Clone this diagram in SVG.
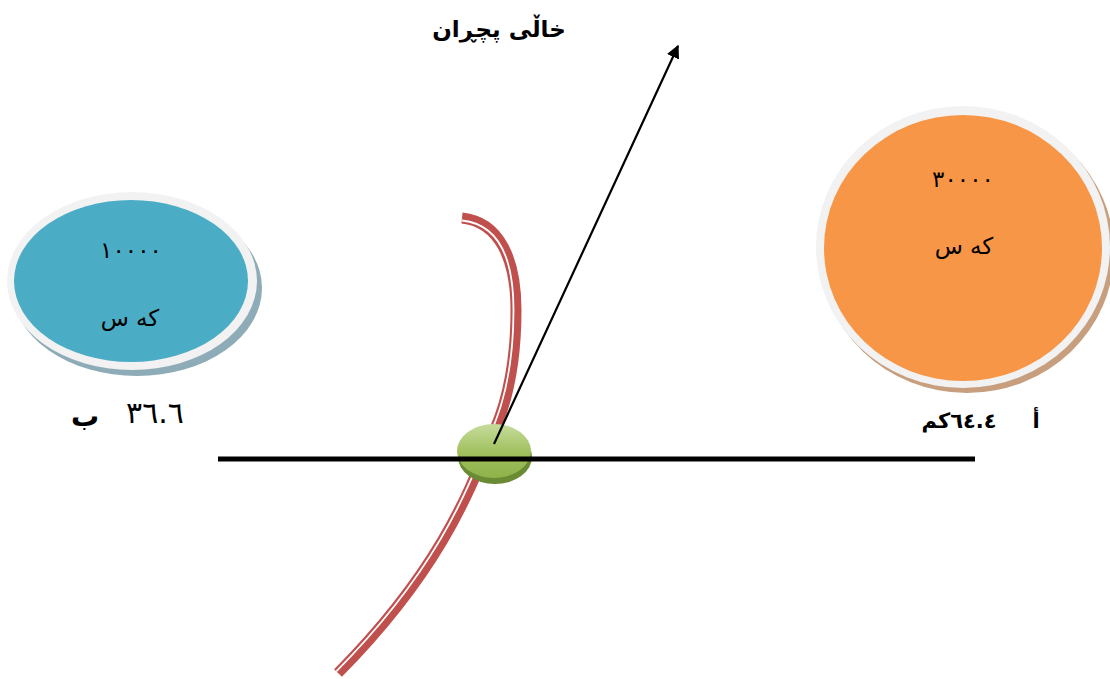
<svg xmlns="http://www.w3.org/2000/svg" width="1110" height="679" viewBox="0 0 1110 679">
<style>
.t{font-family:"DejaVu Sans","Noto Sans",sans-serif;fill:#000;text-anchor:middle}
.b{font-weight:bold}
.rim{fill:#f2f2f2}
.num{font-size:23px;letter-spacing:2px}
</style>
<defs>
<marker id="ah" viewBox="0 0 10 10" refX="9" refY="5" markerWidth="6" markerHeight="6" orient="auto" markerUnits="strokeWidth">
<path d="M0,0 L10,5 L0,10 z" fill="#000"/>
</marker>
<linearGradient id="gg" x1="0" y1="0" x2="0" y2="1">
<stop offset="0" stop-color="#c6dc9c"/>
<stop offset="0.55" stop-color="#9fbf5c"/>
<stop offset="1" stop-color="#8fb24a"/>
</linearGradient>
</defs>
<rect width="1110" height="679" fill="#fff"/>

<g id="title">
<text class="t b" x="499" y="37" font-size="23" direction="rtl">خاڵی پچڕان</text>
</g>

<g id="node-b">
<ellipse cx="137" cy="288" rx="125" ry="88" fill="#8eacb8"/>
<ellipse class="rim" cx="132" cy="281" rx="125" ry="89"/>
<ellipse cx="131" cy="281" rx="117" ry="81" fill="#4bacc6"/>
<text class="t num" x="131" y="258">١٠٠٠٠</text>
<text class="t" x="130" y="326" font-size="23" direction="rtl">کە س</text>
</g>

<g id="node-a">
<ellipse cx="967" cy="252" rx="147" ry="141" fill="#c89f7e"/>
<ellipse class="rim" cx="963" cy="247" rx="147" ry="141"/>
<ellipse cx="963" cy="248" rx="139" ry="133" fill="#f79646"/>
<text class="t num" x="963" y="187">٣٠٠٠٠</text>
<text class="t" x="964" y="254" font-size="23" direction="rtl">کە س</text>
</g>

<g id="label-b">
<text class="t" x="155" y="423" font-size="30">٣٦.٦</text>
<text class="t b" x="85" y="426" font-size="28">ب</text>
</g>

<g id="label-a">
<text class="t b" x="959" y="428" font-size="21" direction="rtl">٦٤.٤كم</text>
<text class="t b" x="1036" y="428" font-size="21">أ</text>
</g>

<g id="connectors">
<g id="river">
<path d="M462,218 C500,222 516,260 516,310 C516,370 505,410 490,440 C470,490 440,570 338,673" fill="none" stroke="#c0504d" stroke-width="11"/>
<path d="M462,220.5 C499.4,224.4 513.5,260 513.5,310 C513.5,370 502.7,409 487.7,439 C467.7,489 438.3,568.3 336.3,671.3" fill="none" stroke="#fff" stroke-width="1.8"/>
</g>
<g id="junction">
<ellipse cx="495" cy="457" rx="37" ry="27" fill="#6a8a34"/>
<ellipse cx="494" cy="451" rx="37" ry="27" fill="url(#gg)"/>
</g>
<line x1="218" y1="459" x2="975" y2="459" stroke="#000" stroke-width="5"/>
<line x1="494" y1="444" x2="678" y2="46" stroke="#000" stroke-width="2.2" marker-end="url(#ah)"/>
</g>
</svg>
